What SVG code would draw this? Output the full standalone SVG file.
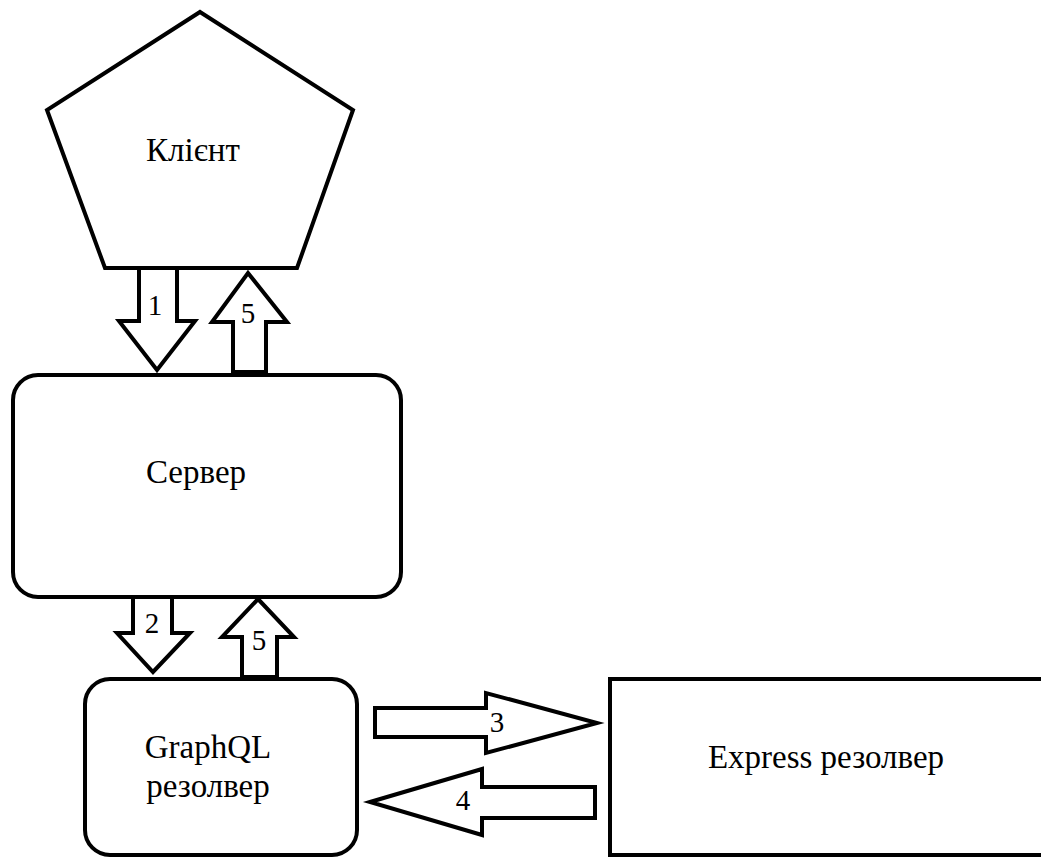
<svg xmlns="http://www.w3.org/2000/svg" width="1041" height="857" viewBox="0 0 1041 857">
<style>
.shape{fill:#fff;stroke:#000;stroke-width:4;stroke-linejoin:miter}
.arrow{fill:#fff;stroke:#000;stroke-width:4;stroke-linejoin:miter}
.lbl{font-family:"Liberation Serif",Tinos,"Times New Roman",Times,"DejaVu Serif","Noto Serif",serif;font-size:33px;fill:#000;text-anchor:middle}
.num{font-family:"Liberation Serif",Tinos,"Times New Roman",Times,"DejaVu Serif","Noto Serif",serif;font-size:29px;fill:#000;text-anchor:middle}
</style>
<rect width="1041" height="857" fill="#fff"/>
<g id="client">
<polygon class="shape" points="200,12 353,110 297,268 105,268 47,110"/>
<text class="lbl" x="193" y="161">Клієнт</text>
</g>
<g id="server">
<rect class="shape" x="13" y="375" width="388" height="222" rx="25" ry="25"/>
<text class="lbl" x="196" y="483">Сервер</text>
</g>
<g id="graphql">
<rect class="shape" x="85" y="679" width="272" height="176" rx="25" ry="25"/>
<text class="lbl" x="208" y="758">GraphQL</text>
<text class="lbl" x="208" y="797">резолвер</text>
</g>
<g id="express">
<rect class="shape" x="610" y="679" width="440" height="176"/>
<text class="lbl" x="826" y="768">Express резолвер</text>
</g>
<g id="connectors">
<polygon class="arrow" points="139,268 177,268 177,321 195,321 157,370 119,321 139,321"/>
<text class="num" x="155" y="315">1</text>
<polygon class="arrow" points="248,273 287,322 266,322 266,372 233,372 233,322 212,322"/>
<text class="num" x="248" y="323">5</text>
<polygon class="arrow" points="133,597 172,597 172,633 190,633 153,672 117,633 133,633"/>
<text class="num" x="152" y="633">2</text>
<polygon class="arrow" points="258,599 294,637 277,637 277,677 242,677 242,637 222,637"/>
<text class="num" x="259" y="650">5</text>
<polygon class="arrow" points="375,708 486,708 486,693 597,723 486,753 486,737 375,737"/>
<text class="num" x="497" y="732">3</text>
<polygon class="arrow" points="370,802 482,769 482,787 595,787 595,818 482,818 482,835"/>
<text class="num" x="463" y="810">4</text>
</g>
</svg>
